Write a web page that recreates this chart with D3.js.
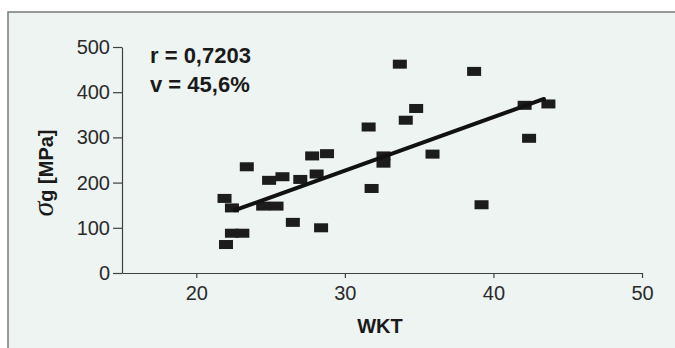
<!DOCTYPE html>
<html>
<head>
<meta charset="utf-8">
<script src="https://cdn.jsdelivr.net/npm/d3@7"></script>
<style>
  html, body { margin: 0; padding: 0; background: #ffffff; }
  svg { display: block; }
</style>
</head>
<body>
<script>
'use strict';

// data (WKT vs sigma_g)
const wkt   = [21.9, 22.4, 22.0, 22.4, 23.1, 23.4, 24.9, 25.8, 24.5, 25.4, 26.5, 27.0, 27.8, 28.8,
               28.1, 28.4, 31.6, 31.8, 32.6, 32.6, 33.7, 34.1, 34.8, 35.9, 38.7, 39.2, 42.1, 42.4, 43.7];
const sigma = [165, 144, 63, 88, 88, 235, 205, 213, 148, 148, 112, 207, 259, 264,
               219, 100, 323, 187, 259, 243, 462, 338, 364, 263, 446, 151, 371, 298, 374];
const trendX = [22.6, 43.4];
const trendY = [139, 385];
const xTicks = [20, 30, 40, 50];
const yTicks = [0, 100, 200, 300, 400, 500];
const notes = ["r = 0,7203", "v = 45,6%"];

const width = 675, height = 348;
const svg = d3.select("body").append("svg")
    .attr("width", width)
    .attr("height", height);

// panel background + frame
svg.append("rect")
    .attr("x", 8).attr("y", 12)
    .attr("width", width).attr("height", height)
    .attr("fill", "#edf4f2")
    .attr("stroke", "#7a7a7a")
    .attr("stroke-width", 1.5);

let xScale = d3.scaleLinear().domain([15, 50]).range([122, 642]);
let yScale = d3.scaleLinear().domain([0, 500]).range([273, 47]);

// x axis
let xAxis = svg.append("g")
    .attr("transform", "translate(0," + yScale(0) + ")")
    .call(d3.axisBottom(xScale).tickValues(xTicks).tickSize(5).tickSizeOuter(0).tickPadding(8));

// y axis
let yAxis = svg.append("g")
    .attr("transform", "translate(" + xScale(15) + ",0)")
    .call(d3.axisLeft(yScale).tickValues(yTicks).tickSize(9).tickSizeOuter(0).tickPadding(3));

[xAxis, yAxis].forEach(function(g) {
    g.selectAll("path, line").attr("stroke", "#404040").attr("stroke-width", 1.2);
    g.selectAll("text")
        .attr("fill", "#2a2a2a")
        .attr("font-family", "Liberation Sans, Arial, sans-serif")
        .attr("font-size", "20px");
});

// points
svg.selectAll(".pt")
    .data(wkt)
    .enter()
    .append("rect")
        .attr("class", "pt")
        .attr("x", function(d) { return xScale(d) - 7; })
        .attr("y", function(d, i) { return yScale(sigma[i]) - 4.5; })
        .attr("width", 14)
        .attr("height", 9)
        .attr("fill", "#1c1c1c");

// regression line
svg.append("line")
    .attr("x1", xScale(trendX[0])).attr("y1", yScale(trendY[0]))
    .attr("x2", xScale(trendX[1])).attr("y2", yScale(trendY[1]))
    .attr("stroke", "#111")
    .attr("stroke-width", 4)
    .attr("stroke-linecap", "round");

// r and v
svg.selectAll(".note")
    .data(notes)
    .enter()
    .append("text")
        .attr("class", "note")
        .attr("x", 150)
        .attr("y", function(d, i) { return 63 + i * 29; })
        .attr("fill", "#1a1a1a")
        .attr("font-family", "Liberation Sans, Arial, sans-serif")
        .attr("font-weight", "bold")
        .attr("font-size", "22px")
        .text(function(d) { return d; });

// x label
svg.append("text")
    .attr("x", 380)
    .attr("y", 333)
    .attr("text-anchor", "middle")
    .attr("fill", "#1a1a1a")
    .attr("font-family", "Liberation Sans, Arial, sans-serif")
    .attr("font-weight", "bold")
    .attr("font-size", "20px")
    .text("WKT");

// y label (sigma_g [MPa])
let yLab = svg.append("text")
    .attr("transform", "translate(53,173) rotate(-90)")
    .attr("text-anchor", "middle")
    .attr("fill", "#1a1a1a");
yLab.append("tspan")
    .attr("font-family", "Liberation Serif, Times New Roman, serif")
    .attr("font-style", "italic")
    .attr("font-size", "30px")
    .text("σ");
yLab.append("tspan")
    .attr("font-family", "Liberation Sans, Arial, sans-serif")
    .attr("font-weight", "bold")
    .attr("font-size", "20px")
    .text("g [MPa]");
</script>
</body>
</html>
